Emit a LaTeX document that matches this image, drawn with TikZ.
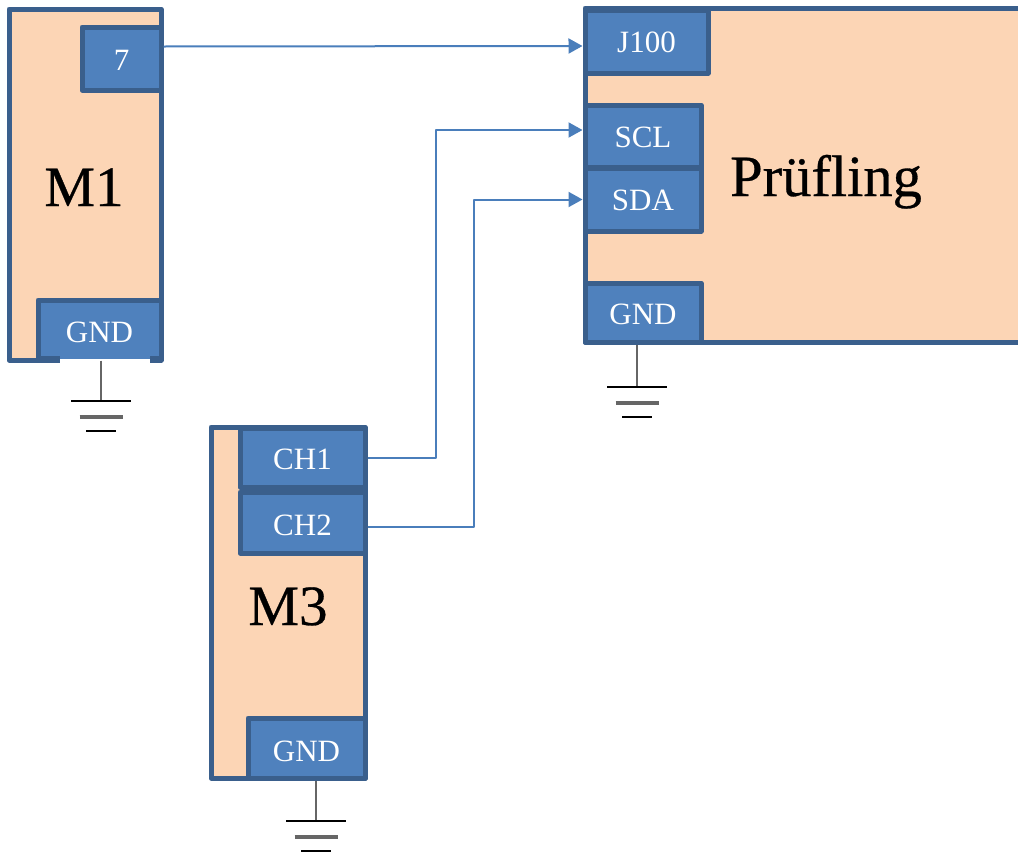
\documentclass[tikz,border=0pt]{standalone}
\usepackage{fontspec}
\setmainfont{Liberation Serif}
\newfontface\titleface[FakeBold=0.5]{Liberation Serif}
\usepackage{xcolor}
\usetikzlibrary{arrows.meta,positioning}
\definecolor{boxfill}{HTML}{FCD5B5}
\definecolor{portfill}{HTML}{4F81BD}
\definecolor{edgeblue}{HTML}{3A5F8C}
\definecolor{wireblue}{HTML}{4A7EBB}

\begin{document}
\begin{tikzpicture}
  [
  x=1pt,y=-1pt,
  line join=round,
  unit/.style={rectangle,draw=edgeblue,fill=boxfill,line width=5pt,inner sep=0pt},
  port/.style={rectangle,draw=edgeblue,fill=portfill,line width=5pt,inner sep=0pt,
    text=white,font=\fontsize{31}{36}\selectfont},
  title/.style={anchor=base,inner sep=0pt,font=\titleface\fontsize{57}{64}\selectfont},
  wire/.style={draw=wireblue,line width=2pt},
  feed/.style={wire,-{Triangle[length=14pt,width=15pt]}},
  stem/.style={draw=black!60,line width=2.8pt},
  bar/.style={draw=black,line width=2.5pt}
  ]
  \useasboundingbox (0,0) rectangle (1018,857);
  % M1
  \node[unit,minimum width=152pt,minimum height=351pt] (m1) at (85,184.5) {};
  \node[port,minimum width=79pt,minimum height=63pt,text height=23pt] (m1pin) at (121.5,58.5) {7};
  \node[port,minimum width=123pt,minimum height=58pt,text height=28pt] (m1gnd) at (99.5,329) {GND};
  \node[title] (m1name) at (84,206) {M1};
  % notch under the GND port of M1
  \coordinate (m1gapa) at (60,356.5);
  \coordinate (m1gapb) at (150,356.5);
  \draw[draw=portfill,line width=4pt] (m1gapa) -- (m1gapb);
  \draw[draw=white,line width=4pt] ([yshift=-4pt]m1gapa) -- ([yshift=-4pt]m1gapb);
  % M3
  \node[unit,minimum width=154pt,minimum height=351pt] (m3) at (288,602.5) {};
  \node[port,minimum width=125pt,minimum height=59pt,text height=25pt] (ch1) at (302.5,457.5) {CH1};
  \node[port,minimum width=125pt,minimum height=61pt,text height=27pt] (ch2) at (302.5,522.5) {CH2};
  \node[port,minimum width=117pt,minimum height=60pt,text height=28pt] (m3gnd) at (306.5,748) {GND};
  \node[title] (m3name) at (288,625) {M3};
  % Pruefling, open towards the right edge
  \node[unit,minimum width=445pt,minimum height=334pt] (dut) at (807.5,175) {};
  \node[port,minimum width=123pt,minimum height=63pt,text height=23pt] (j100) at (646.5,41.5) {J100};
  \node[port,minimum width=116pt,minimum height=62pt,text height=24pt] (scl) at (643,136) {SCL};
  \node[port,minimum width=116pt,minimum height=63pt,text height=23pt] (sda) at (643,199.5) {SDA};
  \node[port,minimum width=116pt,minimum height=59pt,text height=25pt] (dutgnd) at (643,312.5) {GND};
  \node[title,font=\titleface\fontsize{58.5}{64}\selectfont] (dutname) at (826,196) {Prüfling};
  % wires
  \coordinate (sclbend) at (436,300);
  \coordinate (sdabend) at (474,300);
  \draw[feed] ([yshift=12pt]m1pin.east) -- ([yshift=-4.5pt]j100.west);
  \draw[feed] (ch1.east) -| (sclbend) |- ([yshift=6pt]scl.west);
  \draw[feed] ([yshift=-4.5pt]ch2.east) -| (sdabend) |- (sda.west);
  % grounds
  \coordinate (m1earth) at (101,401);
  \coordinate (m3earth) at (316,821);
  \coordinate (dutearth) at (637,387);
  \draw[stem] (m1gnd.south -| m1earth) -- (m1earth);
  \draw[stem] (m3gnd.south -| m3earth) -- (m3earth);
  \draw[stem] (dutgnd.south -| dutearth) -- (dutearth);
  \foreach \earth in {m1earth,m3earth,dutearth}
  {
    \draw[bar] ([xshift=-30pt]\earth) -- ([xshift=30pt]\earth);
    \draw[bar,draw=black!60,line width=4pt] ([shift={(-21.5pt,-15.5pt)}]\earth) -- ([shift={(21.5pt,-15.5pt)}]\earth);
    \draw[bar] ([shift={(-15pt,-30pt)}]\earth) -- ([shift={(15pt,-30pt)}]\earth);
  }
\end{tikzpicture}
\end{document}
